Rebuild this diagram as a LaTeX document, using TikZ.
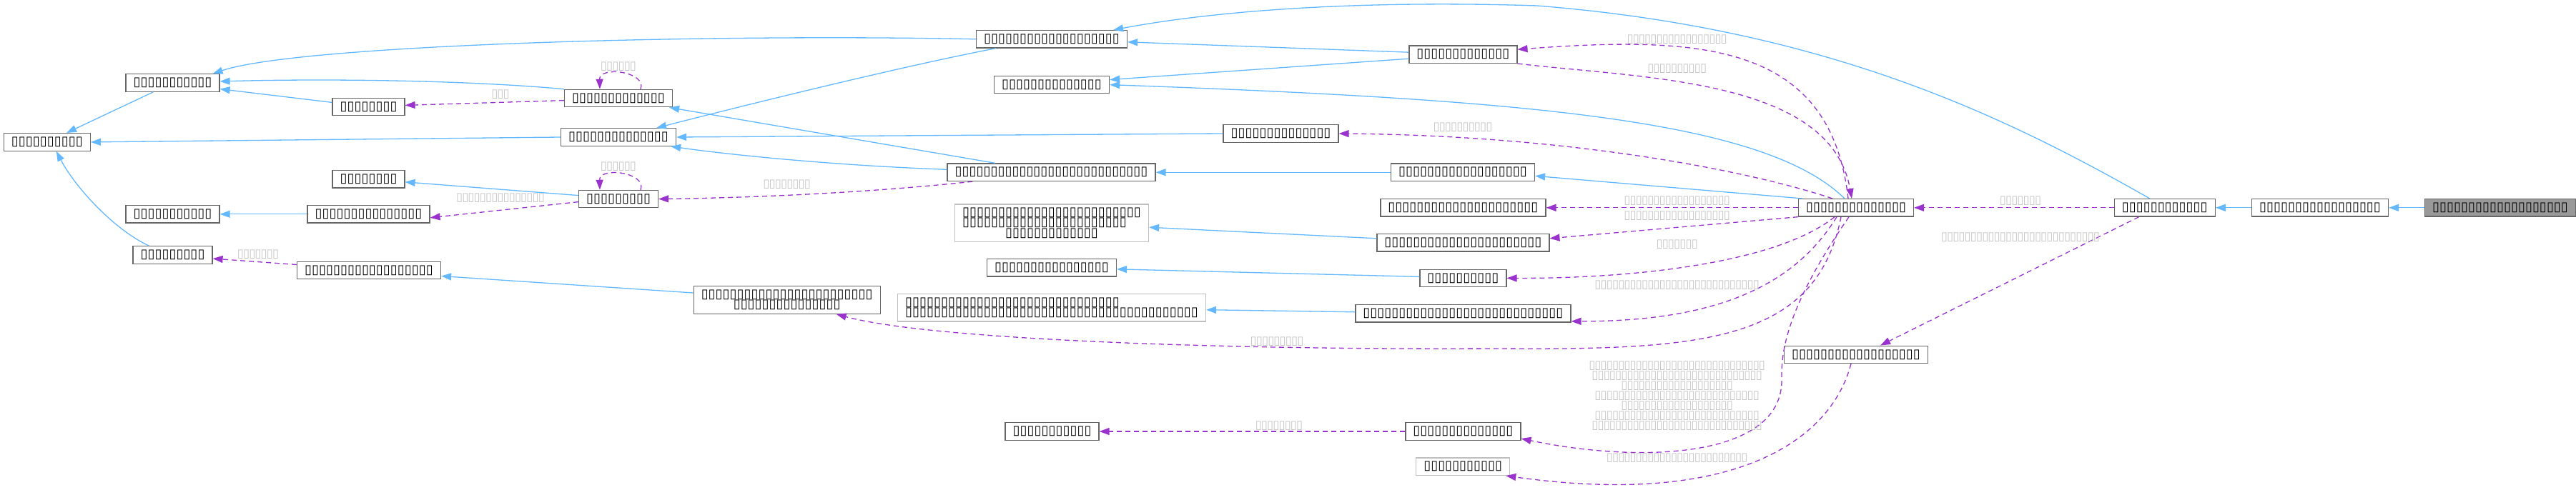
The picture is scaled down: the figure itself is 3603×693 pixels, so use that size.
\documentclass[tikz,border=0pt]{standalone}
\usepackage{fontspec}
\usetikzlibrary{arrows.meta}
\newfontfamily\boxfont{DejaVu Sans}
\definecolor{inhblue}{HTML}{63B8FF}
\definecolor{usepurple}{HTML}{9A32CD}
\definecolor{lblgrey}{HTML}{C4C4C4}
\definecolor{edgegrey}{HTML}{666666}
\definecolor{lightedge}{HTML}{BFBFBF}
\definecolor{hlgrey}{HTML}{999999}

% a run of missing-glyph boxes, as the picture prints them
\newcommand\nt[1]{\foreach \k in {1,...,#1}{\makebox[10pt]{▯}}}
\newcommand\lt[1]{\foreach \k in {1,...,#1}{\makebox[8.2pt]{▯}}}

\begin{document}
\begin{tikzpicture}[x=1pt, y=-1pt,
  cls/.style={draw=edgegrey, fill=white, line width=1.2pt, inner xsep=10.5pt, inner ysep=0pt,
    minimum height=24.5pt, font=\boxfont\fontsize{18}{14.4}\selectfont},
  ext/.style={cls, draw=lightedge},
  hl/.style={cls, fill=hlgrey},
  lbl/.style={text=lblgrey, inner sep=0pt, font=\boxfont\fontsize{16.5}{14}\selectfont},
  inhedge/.style={draw=inhblue, line width=1.3pt, -{Triangle[length=14pt,width=10pt]}},
  usedge/.style={draw=usepurple, line width=1.3pt, dash pattern=on 7pt off 5pt,
    -{Triangle[length=14pt,width=10pt]}}]

  \useasboundingbox (0,0) rectangle (3603,693);

  % left part of the graph
  \node[cls] (root) at (65.8,198.9) {\nt{10}};
  \node[cls] (p1) at (241.5,116) {\nt{11}};
  \node[cls] (p2) at (515.5,149.4) {\nt{8}};
  \node[cls] (p3) at (865,137.6) {\nt{13}};
  \node[cls] (p4) at (865,192) {\nt{14}};
  \node[cls] (p5) at (515.5,250.8) {\nt{8}};
  \node[cls] (p6) at (865,278.6) {\nt{9}};
  \node[cls] (p7) at (241.5,299.8) {\nt{11}};
  \node[cls] (p8) at (515.5,299.8) {\nt{15}};
  \node[cls] (p9) at (241.5,357) {\nt{9}};
  \node[cls] (p10) at (516,378.5) {\nt{18}};

  % middle column
  \node[cls] (q1) at (1471,54.8) {\nt{19}};
  \node[cls] (q2) at (1471,118.6) {\nt{14}};
  \node[cls] (q3) at (1791.5,187) {\nt{14}};
  \node[cls] (q4) at (1470.5,241.3) {\nt{27}};
  \node[ext, align=left, minimum height=52.5pt] (q5) at (1471,312.2)
    {\nt{25}\\\nt{23}\\\hspace*{60pt}\nt{13}};
  \node[cls] (q6) at (1471,374.8) {\nt{16}};
  \node[ext, align=left, minimum height=38.5pt] (q7) at (1471,430.7) {\nt{30}\\\nt{41}};
  \node[cls, align=center, minimum height=38.5pt] (q8) at (1100.7,420) {\nt{24}\\\nt{15}};
  \node[cls] (q9) at (1471.5,604) {\nt{11}};

  % right column and the class itself
  \node[cls] (r1) at (2046.4,76.2) {\nt{13}};
  \node[cls] (r4) at (2046,241.3) {\nt{18}};
  \node[cls] (r5) at (2046.4,290.8) {\nt{21}};
  \node[cls] (r6) at (2046.4,339.8) {\nt{22}};
  \node[cls] (r7) at (2046.4,389.4) {\nt{10}};
  \node[cls] (r8) at (2046.4,438.8) {\nt{28}};
  \node[cls] (r10) at (2046.4,604) {\nt{14}};
  \node[ext] (r11) at (2046.2,653.2) {\nt{11}};
  \node[cls] (cen) at (2596,290.8) {\nt{14}};
  \node[cls] (r9) at (2596,496.4) {\nt{18}};
  \node[cls] (s1) at (3027.7,290.8) {\nt{12}};
  \node[cls] (s2) at (3245,290.8) {\nt{17}};
  \node[hl] (s3) at (3497,290.8) {\nt{19}};

  % inheritance (blue)
  \draw[inhedge] (p1) -- (root);
  \draw[inhedge] ([xshift=-33pt]p9.north) .. controls (160,322) and (105,262) .. ([xshift=13pt]root.south);
  \draw[inhedge] (p4.west) -- (root.east);
  \draw[inhedge] (p3.north west) .. controls (650,112) and (450,110) .. ([yshift=2pt]p1.east);
  \draw[inhedge] ([yshift=6pt]p2.west) -- ([yshift=-8.6pt]p1.east);
  \draw[inhedge] (q1.west) .. controls (1000,47) and (420,62) .. ([xshift=-10pt]p1.north east);
  \draw[inhedge] ([xshift=28pt]q1.south west) .. controls (1250,95) and (1000,158) .. ([xshift=-28pt]p4.north east);
  \draw[inhedge] ([xshift=68pt]q4.north west) -- ([xshift=-5pt]p3.south east);
  \draw[inhedge] ([yshift=4pt]q4.west) .. controls (1150,231) and (1000,214) .. ([xshift=-8pt]p4.south east);
  \draw[inhedge] (q3.west) -- (p4.east);
  \draw[inhedge] ([yshift=5pt]p6.west) -- ([yshift=-4pt]p5.east);
  \draw[inhedge] (p8.west) -- (p7.east);
  \draw[inhedge] ([yshift=10pt]q8.west) -- ([yshift=-8pt]p10.east);
  \draw[inhedge] ([yshift=3pt]r1.west) -- ([yshift=-4pt]q1.east);
  \draw[inhedge] ([yshift=-6pt]r1.west) -- ([yshift=7pt]q2.east);
  \draw[inhedge] ([xshift=-16pt]cen.north) .. controls (2470,170) and (2150,140) .. (q2.east);
  \draw[inhedge] (r4.west) -- (q4.east);
  \draw[inhedge] ([xshift=6pt]cen.north west) -- ([yshift=-5pt]r4.east);
  \draw[inhedge] ([yshift=6pt]r6.west) -- ([yshift=-6pt]q5.east);
  \draw[inhedge] ([yshift=2pt]r7.west) -- ([yshift=-2pt]q6.east);
  \draw[inhedge] ([yshift=2pt]r8.west) -- ([yshift=-3pt]q7.east);
  \draw[inhedge] ([xshift=-21pt]s1.north) .. controls (2800,160) and (2550,40) .. (2150,8)
    .. controls (1900,0) and (1700,15) .. ([xshift=-20pt]q1.north east);
  \draw[inhedge] (s2.west) -- (s1.east);
  \draw[inhedge] (s3.west) -- (s2.east);

  % usage (purple, dashed)
  \draw[usedge] ([xshift=31pt]p3.north) .. controls (905,100) and (838,92) .. ([xshift=-26pt]p3.north);
  \draw[usedge] ([yshift=-3pt]p3.west) -- ([yshift=2pt]p2.east);
  \draw[usedge] ([xshift=31pt]p6.north) .. controls (905,241) and (838,233) .. ([xshift=-26pt]p6.north);
  \draw[usedge] ([yshift=-4pt]p6.west) -- ([yshift=-5pt]p8.east);
  \draw[usedge] ([xshift=36pt]q4.south west) .. controls (1250,266) and (1100,276) .. (p6.east);
  \draw[usedge] ([yshift=8pt]p10.west) -- ([yshift=-5pt]p9.east);
  \draw[usedge] ([xshift=-11pt]cen.north) .. controls (2560,60) and (2380,50) .. ([yshift=7pt]r1.east);
  \draw[usedge] (r1.south east) .. controls (2300,110) and (2560,110) .. ([xshift=-6pt]cen.north);
  \draw[usedge] ([xshift=-33pt]cen.north) .. controls (2450,240) and (2200,190) .. (q3.east);
  \draw[usedge] (cen.west) -- (r5.east);
  \draw[usedge] (cen.south west) -- ([yshift=6pt]r6.east);
  \draw[usedge] ([xshift=-30pt]cen.south) .. controls (2490,365) and (2300,390) .. (r7.east);
  \draw[usedge] ([xshift=-27pt]cen.south) .. controls (2510,400) and (2400,450) .. ([yshift=-11pt]r8.east);
  \draw[usedge] ([xshift=-21pt]cen.south) .. controls (2540,480) and (2380,490) .. (2093,488)
    .. controls (1700,490) and (1300,475) .. ([xshift=69pt]q8.south);
  \draw[usedge] ([xshift=-10pt]cen.south) .. controls (2520,400) and (2490,470) .. (2492,530)
    .. controls (2495,640) and (2300,650) .. ([yshift=-10pt]r10.east);
  \draw[usedge] (s1.west) -- (cen.east);
  \draw[usedge] ([xshift=-36pt]s1.south) -- ([xshift=34pt]r9.north);
  \draw[usedge] ([xshift=-7pt]r9.south) .. controls (2560,620) and (2420,710) .. ([xshift=-6pt]r11.south east);
  \draw[usedge] (r10.west) -- (q9.east);

  % edge labels
  \node[lbl] (l1) at (865,93) {\lt{6}};
  \node[lbl] (l2) at (700,132.6) {\lt{3}};
  \node[lbl] (l3) at (865,233.4) {\lt{6}};
  \node[lbl] (l4) at (700,277.6) {\lt{15}};
  \node[lbl] (l5) at (1100.7,258) {\lt{8}};
  \node[lbl] (l6) at (361,356) {\lt{7}};
  \node[lbl] (l7) at (2345.7,55.2) {\lt{17}};
  \node[lbl] (l8) at (2345.7,96.3) {\lt{10}};
  \node[lbl] (l9) at (2046,178) {\lt{10}};
  \node[lbl] (l10) at (2345.7,281.5) {\lt{18}};
  \node[lbl] (l11) at (2345.7,302.3) {\lt{18}};
  \node[lbl] (l12) at (2345.7,342) {\lt{7}};
  \node[lbl] (l13) at (2345.7,399.5) {\lt{28}};
  \node[lbl] (l14) at (1786,478) {\lt{9}};
  \node[lbl, align=center] (l15) at (2345.7,554.7)
    {\lt{30}\\\lt{29}\\\lt{19}\\\lt{28}\\\lt{19}\\\lt{28}\\\lt{29}};
  \node[lbl] (l16) at (2826,281.5) {\lt{7}};
  \node[lbl] (l17) at (2826,332) {\lt{27}};
  \node[lbl] (l18) at (2345.7,640.9) {\lt{24}};
  \node[lbl] (l19) at (1789,596) {\lt{8}};

\end{tikzpicture}
\end{document}
